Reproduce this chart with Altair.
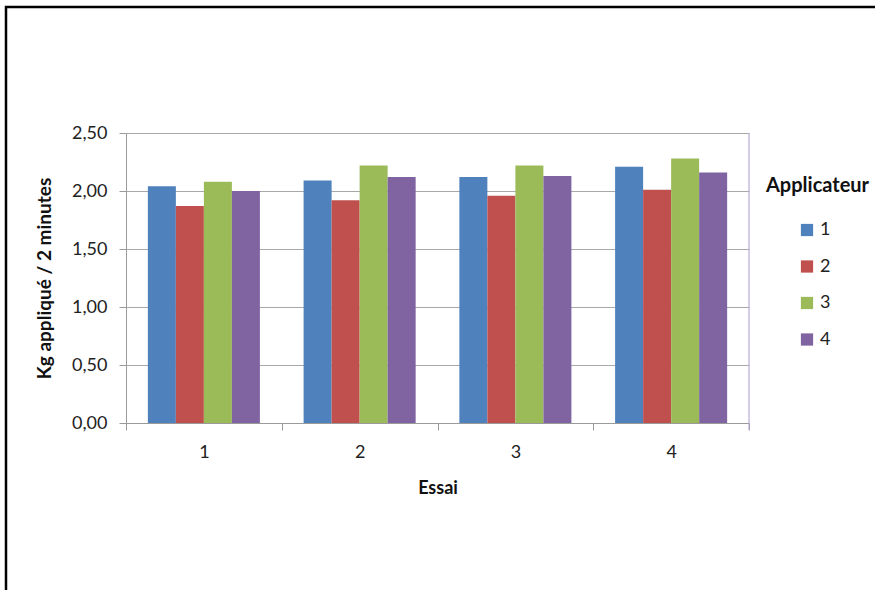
import altair as alt
import pandas as pd

essais = ["1", "2", "3", "4"]
applicateurs = ["1", "2", "3", "4"]
# values per applicateur, one per essai
app1 = [2.04, 2.09, 2.12, 2.21]
app2 = [1.87, 1.92, 1.96, 2.01]
app3 = [2.08, 2.22, 2.22, 2.28]
app4 = [2.00, 2.12, 2.13, 2.16]
y_ticks = [0, 0.5, 1.0, 1.5, 2.0, 2.5]
colors = ["#4F81BD", "#C0504D", "#9BBB59", "#8064A2"]

series = [app1, app2, app3, app4]
rows = []
for a, vals in zip(applicateurs, series):
    for e, v in zip(essais, vals):
        rows.append({"Essai": e, "Applicateur": a, "Valeur": v})
df = pd.DataFrame(rows)

W, H = 623, 290
FONT = "Lato"

bars = alt.Chart(df).mark_bar().encode(
    x=alt.X("Essai:N", sort=essais,
            scale=alt.Scale(paddingInner=0, paddingOuter=0),
            axis=alt.Axis(title="Essai", labelAngle=0, tickBand="extent",
                          grid=False, domainColor="#9a9a9a", tickColor="#9a9a9a",
                          tickSize=7, labelPadding=13, titlePadding=18,
                          labelFontSize=18, titleFontSize=18, titleFontWeight="bold",
                          labelColor="#222", titleColor="#111")),
    xOffset=alt.XOffset("Applicateur:N", sort=applicateurs,
                        scale=alt.Scale(paddingInner=0, paddingOuter=0.78)),
    y=alt.Y("Valeur:Q", scale=alt.Scale(domain=[0, 2.5], nice=False),
            axis=alt.Axis(title="Kg appliqué / 2 minutes", values=y_ticks,
                          labelExpr="replace(format(datum.value, '.2f'), '.', ',')",
                          grid=True, gridColor="#a8a8a8", domainColor="#9a9a9a",
                          tickColor="#9a9a9a", tickSize=7, labelPadding=12,
                          titlePadding=17, labelFontSize=18, titleFontSize=19,
                          titleFontWeight="bold", labelColor="#222", titleColor="#111")),
    color=alt.Color("Applicateur:N", sort=applicateurs,
                    scale=alt.Scale(domain=applicateurs, range=colors),
                    legend=alt.Legend(orient="none", legendX=672, legendY=88, title=None,
                                      symbolType="square", symbolSize=150,
                                      symbolStrokeWidth=0, rowPadding=18.5,
                                      labelFontSize=18, labelOffset=4, padding=0,
                                      labelColor="#222")),
)

frame_df = pd.DataFrame({"k": [0]})
frame = alt.Chart(frame_df).mark_rect(filled=False, stroke="black", strokeWidth=2.5).encode(
    x=alt.value(-120), x2=alt.value(900), y=alt.value(-126), y2=alt.value(620)
)
right_rule = alt.Chart(frame_df).mark_rule(color="#b9acd3", strokeWidth=1.2).encode(
    x=alt.value(W), y=alt.value(0), y2=alt.value(H + 7)
)
legend_title = alt.Chart(frame_df).mark_text(
    text="Applicateur", align="left", baseline="middle", fontSize=20,
    fontWeight="bold", font=FONT, color="#111"
).encode(x=alt.value(640), y=alt.value(53))

chart = alt.layer(bars, right_rule, legend_title, frame).properties(
    width=W, height=H,
    autosize=alt.AutoSizeParams(type="none"),
    padding={"left": 126, "top": 133, "right": 126, "bottom": 167},
).configure(font=FONT).configure_view(stroke=None)

chart.save("out.html", embed_options={"renderer": "svg", "actions": False})
